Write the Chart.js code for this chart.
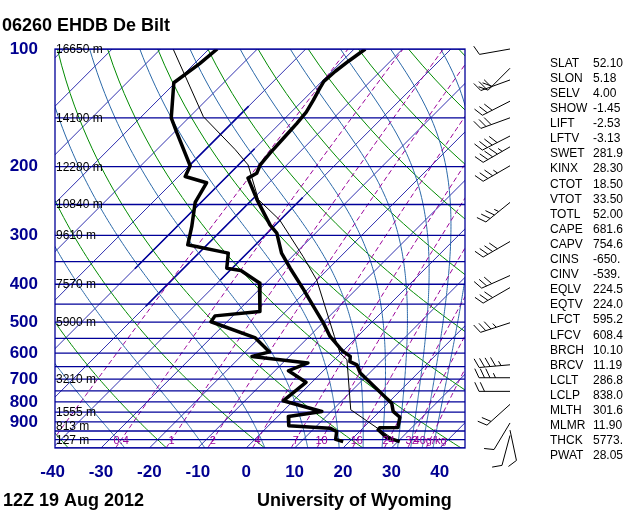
<!DOCTYPE html>
<html>
<head>
<meta charset="utf-8">
<script src="https://cdn.jsdelivr.net/npm/chart.js@4.4.0/dist/chart.umd.min.js"></script>
<style>
  html, body { margin: 0; padding: 0; background: #fff; }
  canvas { display: block; }
</style>
</head>
<body>
<canvas id="skewt" width="640" height="512"></canvas>
<script>
// 06260 EHDB De Bilt, 12Z 19 Aug 2012
const tempP = [100, 107, 114, 121, 127, 135, 145, 155, 169, 185, 198, 208, 214, 243, 282, 296, 333, 364, 413, 456, 503, 544, 583, 595, 612, 631, 643, 675, 783, 806, 846, 876, 930, 932, 943, 986, 1011];
const tempT = [-57.7, -58.6, -59.3, -59.6, -58.9, -57.9, -56.9, -56.5, -56.2, -55.9, -55.5, -54.5, -55.3, -49.0, -41.1, -38.0, -32.9, -28.0, -20.8, -15.3, -9.8, -5.7, -1.2, 0.2, 2.6, 3.6, 5.7, 8.1, 18.7, 20.8, 22.8, 25.4, 27.1, 23.4, 23.5, 26.8, 30.4];

const dwptP = [100, 109, 122, 150, 164, 199, 212, 220, 247, 285, 317, 333, 364, 369, 397, 470, 482, 499, 549, 596, 612, 636, 666, 713, 795, 847, 872, 921, 934, 953, 998, 1011];
const dwptT = [-88.3, -88.9, -90.3, -83.6, -79.3, -69.8, -68.6, -62.9, -61.2, -56.9, -54.0, -43.9, -41.1, -37.7, -31.3, -25.3, -33.7, -33.3, -20.8, -15.0, -17.7, -4.8, -7.2, -1.2, -2.1, 8.1, 2.2, 4.2, 13.2, 15.3, 16.7, 18.7];

// thin line: lifted parcel
const parcelP = [1011, 838, 624, 600, 544, 390, 340, 274, 243, 198, 181, 149, 100];
const parcelT = [29.8, 13.7, 2.6, -0.2, -4.8, -20.1, -27.7, -40.1, -48.7, -58.0, -63.8, -77.2, -97.4];

// wind barbs (hPa, deg, kt)
const windP = [100, 112, 120, 136, 150, 167, 178, 199, 247, 311, 380, 408, 502, 643, 694, 752, 812, 906, 945, 975];
const windDir = [260, 225, 250, 243, 250, 243, 240, 240, 231, 240, 246, 240, 252, 265, 270, 270, 228, 211, 168, 195];
const windSpd = [10, 20, 30, 30, 30, 40, 45, 35, 35, 40, 30, 30, 35, 45, 35, 20, 20, 10, 10, 10];

// background diagram
const isobars = [100, 150, 200, 250, 300, 350, 400, 450, 500, 550, 600, 650, 700, 750, 800, 850, 900, 950, 1000, 1050];
const pressLabels = [100, 200, 300, 400, 500, 600, 700, 800, 900];
const tempTicks = [-40, -30, -20, -10, 0, 10, 20, 30, 40];
const isotherms = [-120, -110, -100, -90, -80, -70, -60, -50, -40, -30, -20, -10, 0, 10, 20, 30, 40];
const boldIsoT = [-70, -60, -50, -40];
const boldIsoTop = [140, 180, 240, 240];
const boldIsoBot = [200, 365, 455, 390];
const dryTheta = [-40, -20, 0, 20, 40, 60, 80, 100, 120, 140, 160, 180];
const moistTopTheta = [246, 266, 286, 306, 326, 346, 366, 386, 406, 426, 446];
const mixRatio = [0.1, 0.4, 1, 2, 4, 7, 10, 16, 24, 32, 40];
const mixLabels = ['', '0.4', '1', '2', '4', '7', '10', '16', '24', '32', '40g/kg'];
const heightP = [100, 150, 200, 250, 300, 400, 500, 700, 850, 925, 1000];
const heightTxt = ['16650 m', '14100 m', '12280 m', '10840 m', '9610 m', '7570 m', '5900 m', '3210 m', '1555 m', '813 m', '127 m'];

const statNames = ['SLAT', 'SLON', 'SELV', 'SHOW', 'LIFT', 'LFTV', 'SWET', 'KINX', 'CTOT', 'VTOT', 'TOTL', 'CAPE', 'CAPV', 'CINS', 'CINV', 'EQLV', 'EQTV', 'LFCT', 'LFCV', 'BRCH', 'BRCV', 'LCLT', 'LCLP', 'MLTH', 'MLMR', 'THCK', 'PWAT'];
const statValues = ['52.10', '5.18', '4.00', '-1.45', '-2.53', '-3.13', '281.9', '28.30', '18.50', '33.50', '52.00', '681.6', '754.6', '-650.', '-539.', '224.5', '224.0', '595.2', '608.4', '10.10', '11.19', '286.8', '838.0', '301.6', '11.90', '5773.', '28.05'];

const P_BOT = 1050;
const SKEW = 80.6; // deg C per decade of pressure -> 45 degree isotherms

function skewX(T, p) {
  return T + SKEW * Math.log10(P_BOT / p);
}

function curve(ps, ts) {
  return ps.map((p, i) => ({ x: skewX(ts[i], p), y: p }));
}

// pressure samples for drawing the curved background lines
const levels = [];
for (let p = 1050; p >= 100; p -= 10) levels.push(p);

function mixTemp(w, p) {
  const es = w * p / (622 + w);
  const l = Math.log(es / 6.112);
  return 243.5 * l / (17.67 - l);
}

function moistRate(T, p) {
  const es = 6.112 * Math.exp(17.67 * (T - 273.15) / (T - 29.65));
  const rs = 0.622 * es / (p - es);
  return (287.04 * T + 2.501e6 * rs) / (p * (1005.7 + 2.501e6 * 2.501e6 * rs * 0.622 / (287.04 * T * T)));
}

function moistCurve(thetaTop) {
  const pts = [];
  let T = thetaTop * Math.pow(0.1, 0.2857);
  for (let p = 100; p <= 1050; p += 5) {
    pts.push([p, T - 273.15]);
    const k1 = moistRate(T, p);
    const k2 = moistRate(T + 2.5 * k1, p + 2.5);
    T += 5 * k2;
  }
  return pts;
}

const gridPlugin = {
  id: 'skewtGrid',
  beforeDatasetsDraw(chart) {
    const { ctx, chartArea: a, scales: { x, y } } = chart;
    const X = (T, p) => x.getPixelForValue(skewX(T, p));
    const Y = p => y.getPixelForValue(p);
    const stroke = (pts, color, width, dash) => {
      ctx.beginPath();
      pts.forEach(([p, T], i) => (i ? ctx.lineTo(X(T, p), Y(p)) : ctx.moveTo(X(T, p), Y(p))));
      ctx.strokeStyle = color;
      ctx.lineWidth = width;
      ctx.setLineDash(dash || []);
      ctx.stroke();
    };
    ctx.save();
    ctx.beginPath();
    ctx.rect(a.left, a.top, a.right - a.left, a.bottom - a.top);
    ctx.clip();

    isotherms.forEach(T => stroke([[1050, T], [100, T]], '#1a1aa6', 0.9));
    boldIsoT.forEach((T, i) => stroke([[boldIsoBot[i], T], [boldIsoTop[i], T]], '#000099', 1.6));

    dryTheta.forEach(th => {
      stroke(levels.map(p => [p, (th + 273.15) * Math.pow(p / 1000, 0.2857) - 273.15]), '#008a00', 1);
    });

    moistTopTheta.forEach(th => stroke(moistCurve(th), '#2a68a8', 1));

    mixRatio.forEach(w => {
      stroke(levels.map(p => [p, mixTemp(w, p)]), '#990099', 1, [5, 3]);
    });

    isobars.forEach(p => {
      ctx.beginPath();
      ctx.moveTo(a.left, Y(p));
      ctx.lineTo(a.right, Y(p));
      ctx.strokeStyle = '#000099';
      ctx.lineWidth = 1.3;
      ctx.setLineDash([]);
      ctx.stroke();
    });
    ctx.restore();
  }
};

const decorPlugin = {
  id: 'skewtDecor',
  afterDraw(chart) {
    const { ctx, chartArea: a, scales: { x, y } } = chart;
    const Y = p => y.getPixelForValue(p);
    ctx.save();
    ctx.setLineDash([]);

    // frame
    ctx.strokeStyle = '#000099';
    ctx.lineWidth = 1.3;
    ctx.strokeRect(a.left, a.top, a.right - a.left, a.bottom - a.top);

    // heights of standard levels
    ctx.fillStyle = '#000';
    ctx.font = '12px "Liberation Sans"';
    ctx.textAlign = 'left';
    ctx.textBaseline = 'alphabetic';
    heightP.forEach((p, i) => ctx.fillText(heightTxt[i], a.left + 1, Y(p) + 4));

    // mixing ratio labels
    ctx.fillStyle = '#990099';
    ctx.font = '11px "Liberation Sans"';
    ctx.textAlign = 'center';
    mixRatio.forEach((w, i) => {
      if (!mixLabels[i]) return;
      ctx.fillText(mixLabels[i], x.getPixelForValue(skewX(mixTemp(w, 1000), 1000)), Y(1000) + 4);
    });

    // pressure axis
    ctx.fillStyle = '#000090';
    ctx.font = 'bold 17px "Liberation Sans"';
    ctx.textAlign = 'right';
    ctx.textBaseline = 'middle';
    pressLabels.forEach(p => ctx.fillText(String(p), 38, Y(p)));

    // temperature axis
    ctx.textAlign = 'center';
    ctx.textBaseline = 'alphabetic';
    tempTicks.forEach(T => ctx.fillText(String(T), x.getPixelForValue(T), 477));

    // titles
    ctx.fillStyle = '#000';
    ctx.font = 'bold 18px "Liberation Sans"';
    ctx.textAlign = 'left';
    ctx.fillText('06260 EHDB De Bilt', 2, 31);
    ctx.fillText('12Z 19 Aug 2012', 3, 506);
    ctx.fillText('University of Wyoming', 257, 506);

    // wind barbs
    const bx = 510, staff = 31, fLen = 10, fGap = 5.5;
    ctx.strokeStyle = '#000';
    ctx.lineWidth = 1;
    windP.forEach((p, i) => {
      const by = Y(p);
      const d = windDir[i] * Math.PI / 180;
      const ux = Math.sin(d), uy = -Math.cos(d);
      const fd = d + 65 * Math.PI / 180;
      const fx = Math.sin(fd), fy = -Math.cos(fd);
      ctx.beginPath();
      ctx.moveTo(bx, by);
      ctx.lineTo(bx + ux * staff, by + uy * staff);
      let spd = windSpd[i];
      let pos = staff;
      while (spd >= 10) {
        const sx = bx + ux * pos, sy = by + uy * pos;
        ctx.moveTo(sx, sy);
        ctx.lineTo(sx + fx * fLen, sy + fy * fLen);
        pos -= fGap;
        spd -= 10;
      }
      if (spd >= 5) {
        const sx = bx + ux * pos, sy = by + uy * pos;
        ctx.moveTo(sx, sy);
        ctx.lineTo(sx + fx * fLen / 2, sy + fy * fLen / 2);
      }
      ctx.stroke();
    });

    // station indices
    ctx.fillStyle = '#000';
    ctx.font = '12px "Liberation Sans"';
    ctx.textAlign = 'left';
    statNames.forEach((n, i) => {
      const ty = 66.7 + i * 15.1;
      ctx.fillText(n, 550, ty);
      ctx.fillText(statValues[i], 593, ty);
    });
    ctx.restore();
  }
};

new Chart(document.getElementById('skewt'), {
  type: 'scatter',
  data: {
    datasets: [
      { data: curve(tempP, tempT), showLine: true, borderColor: '#000', borderWidth: 3.5, pointRadius: 0, borderJoinStyle: 'round' },
      { data: curve(dwptP, dwptT), showLine: true, borderColor: '#000', borderWidth: 3.5, pointRadius: 0, borderJoinStyle: 'round' },
      { data: curve(parcelP, parcelT), showLine: true, borderColor: '#000', borderWidth: 1, pointRadius: 0 },
    ],
  },
  options: {
    responsive: false,
    animation: false,
    layout: { padding: { left: 55, right: 175, top: 49, bottom: 64 } },
    plugins: { legend: { display: false }, tooltip: { enabled: false } },
    scales: {
      x: { type: 'linear', min: -39.5, max: 45.2, display: false },
      y: { type: 'logarithmic', min: 100, max: 1050, reverse: true, display: false },
    },
  },
  plugins: [gridPlugin, decorPlugin],
});
</script>
</body>
</html>
